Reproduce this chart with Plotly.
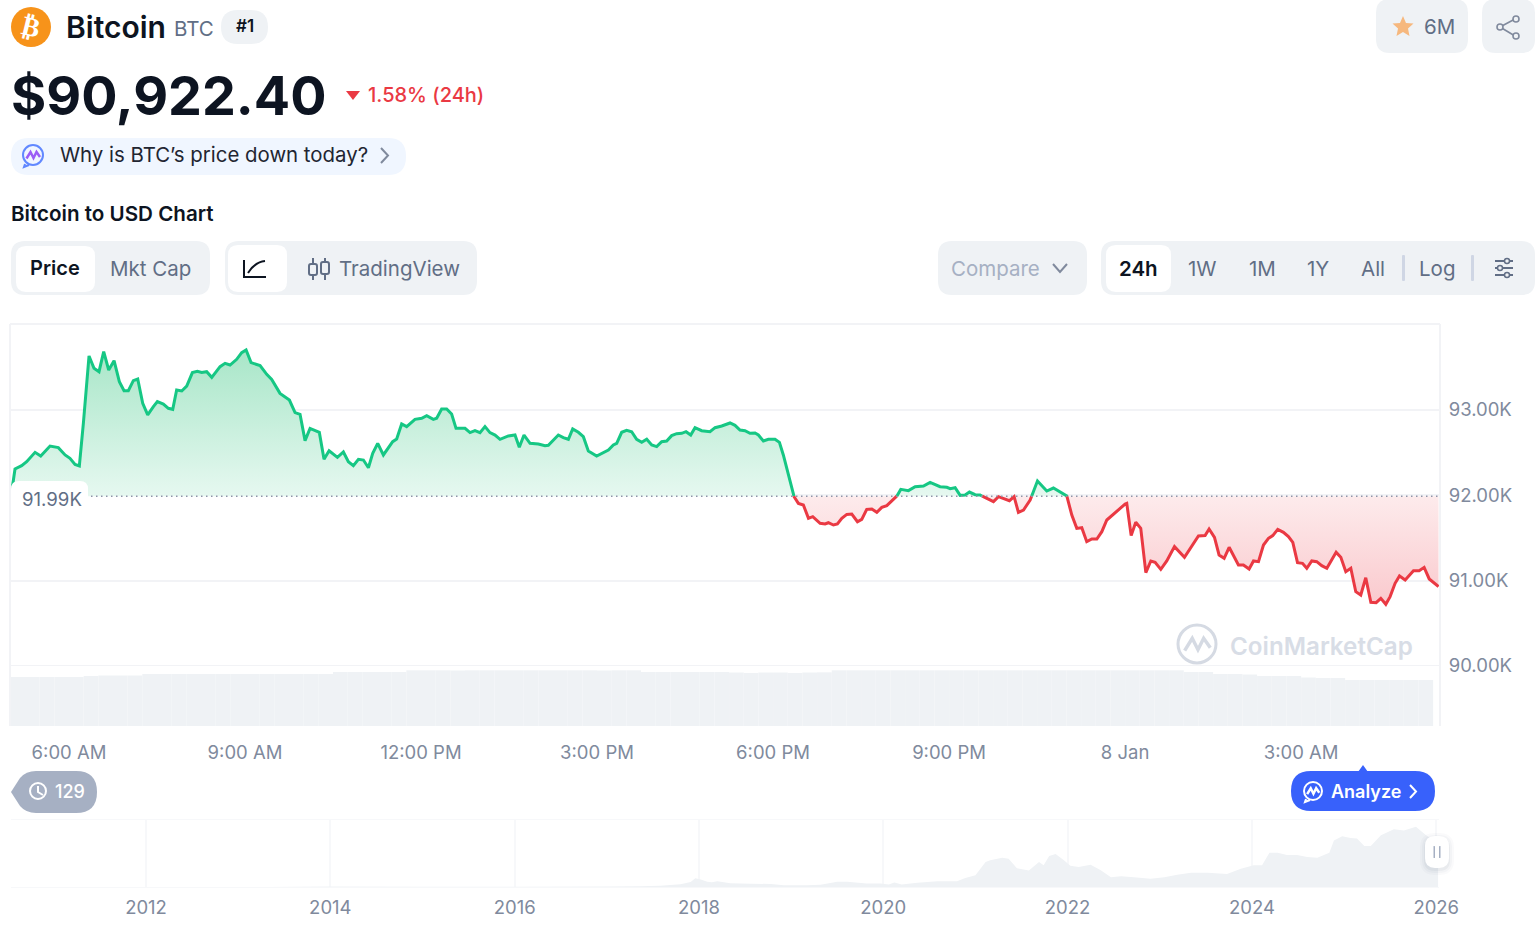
import re
import pandas as pd
import plotly.graph_objects as go

# ---- data ----
# minutes after 05:00 on 7 Jan, price in USD
minutes = [1.4, 4.8, 11.6, 16.7, 25.3, 31.1, 40.6, 49.1, 56, 61, 66.2, 70.6, 74.7, 80.5, 85.6, 90.7,
           95.5, 100.6, 106.1, 111.5, 116.3, 120.7, 125.8, 130.3, 135.4, 140.5, 146.3, 150.4, 156.5,
           161.6, 166.1, 170.1, 175.3, 180.4, 186.2, 191.3, 195.7, 200.8, 206, 214.5, 219.6, 224.7,
           231.5, 236.6, 241.1, 246.2, 255.4, 262.2, 267.3, 275.8, 285.4, 291.2, 296.3, 301.4, 306.5,
           316, 320.8, 326, 334.5, 340.6, 345.7, 350.8, 356, 361.1, 366.2, 370.6, 375.7, 381.5, 391,
           395.1, 400.2, 405.3, 413.8, 420.7, 425.8, 432.6, 436, 441.1, 446.2, 451.3, 455.8, 465,
           470.1, 475.2, 480.3, 485.4, 490.5, 495.7, 500.8, 509.3, 516.1, 520.5, 525.3, 531.5, 540,
           546.8, 550.2, 560.4, 565.5, 570.7, 575.1, 580.9, 586, 591.1, 599.6, 606.5, 611.6, 616.7,
           620.1, 625.2, 630.3, 635.4, 640.5, 645.7, 650.8, 655.9, 661, 666.1, 671.2, 676.3, 681.4,
           686.6, 691, 695.8, 700.2, 707, 715.5, 720.7, 727.5, 736, 741.1, 746.2, 751.3, 756.4, 761.6,
           765, 770.1, 775.2, 782, 786.5, 790.5, 801.5, 805.9, 811, 816.2, 820.6, 828.1, 833.2, 836.6,
           841.7, 845.8, 850.3, 855.4, 860.5, 866.3, 870.7, 875.8, 881, 886.1, 891.2, 896.3, 906.5,
           910.6, 918.4, 925.3, 933.8, 940.6, 950.8, 957.7, 961.1, 966.2, 971.3, 976.4, 980.8, 986.6,
           991.7, 998.6, 1005.4, 1010.5, 1021.7, 1026.5, 1030.9, 1036.1, 1042.9, 1050.4, 1059.9,
           1066.7, 1080.4, 1085.5, 1090.6, 1095.7, 1100.8, 1106, 1111.1, 1116.2, 1121.3, 1128.1, 1140,
           1141.7, 1146.2, 1150.9, 1156, 1161.2, 1166.3, 1170.7, 1176.5, 1182.6, 1190.5, 1200.7,
           1208.2, 1215, 1221.8, 1225.9, 1231.4, 1236.1, 1241.3, 1246.4, 1255.9, 1261, 1266.8, 1271.3,
           1276.4, 1281.5, 1286.6, 1291, 1296.1, 1301.9, 1307, 1311.5, 1316.3, 1321.4, 1325.8, 1330.9,
           1336, 1341.1, 1346.3, 1355.8, 1360.6, 1365.7, 1370.8, 1375.9, 1381, 1386.1, 1391.3, 1396.7,
           1401.5, 1406.6, 1411, 1416.1, 1420.6, 1426.4, 1434.9, 1440.7, 1445.8, 1451, 1460.5]
prices = [92043, 92309, 92348, 92394, 92504, 92461, 92578, 92559, 92473, 92434, 92363, 92344, 92844, 93633,
          93488, 93449, 93684, 93469, 93578, 93332, 93227, 93227, 93344, 93363, 93078, 92942, 93039, 93098,
          93070, 93020, 93008, 93234, 93223, 93281, 93438, 93453, 93441, 93449, 93383, 93508, 93547, 93527,
          93594, 93672, 93703, 93555, 93520, 93418, 93359, 93195, 93117, 92969, 92949, 92641, 92785, 92738,
          92422, 92523, 92445, 92508, 92394, 92348, 92422, 92414, 92324, 92492, 92609, 92473, 92629, 92660,
          92836, 92805, 92891, 92903, 92934, 92891, 92903, 93012, 93012, 92953, 92785, 92785, 92735, 92758,
          92735, 92805, 92735, 92707, 92657, 92696, 92707, 92563, 92707, 92610, 92602, 92582, 92586, 92707,
          92676, 92657, 92778, 92739, 92688, 92520, 92461, 92504, 92531, 92590, 92610, 92739, 92762, 92746,
          92657, 92621, 92657, 92590, 92571, 92629, 92637, 92700, 92723, 92727, 92746, 92707, 92793, 92758,
          92746, 92793, 92813, 92848, 92821, 92766, 92758, 92727, 92731, 92707, 92637, 92657, 92657, 92621,
          92473, 91984, 91906, 91887, 91730, 91750, 91672, 91664, 91679, 91652, 91664, 91730, 91777, 91781,
          91691, 91719, 91836, 91840, 91801, 91859, 91879, 91990, 92070, 92055, 92101, 92109, 92152, 92101,
          92094, 92078, 92090, 92000, 92004, 92039, 92008, 92004, 91961, 91926, 91984, 91937, 91984, 91801,
          91828, 91945, 92168, 92051, 92086, 91992, 91769, 91613, 91621, 91457, 91488, 91488, 91574, 91711,
          91781, 91898, 91906, 91528, 91684, 91613, 91094, 91231, 91215, 91133, 91231, 91399, 91274, 91399,
          91524, 91528, 91606, 91508, 91301, 91262, 91391, 91184, 91184, 91137, 91231, 91223, 91418, 91496,
          91528, 91602, 91567, 91516, 91449, 91211, 91203, 91145, 91231, 91223, 91176, 91145, 91332, 91274,
          91106, 91145, 90871, 90832, 91035, 90746, 90742, 90793, 90723, 90813, 90969, 91055, 91008, 91117,
          91117, 91156, 91020, 90930]
base_price = 91990

# 15 minute volume, in $B
volume_minutes = list(range(0, 1455, 15))
volume = [49, 49, 49, 49, 49, 50, 50.5, 50.5, 50.5, 52, 52, 52, 52, 52, 52, 52, 52, 52, 52, 52, 52, 52,
          54, 54, 54, 54, 54, 55.7, 55.7, 55.7, 55.5, 55.7, 55.7, 55.7, 55.7, 55.7, 55.7, 55.7, 55.7, 55.7,
          55.5, 55.7, 55.7, 54, 54, 54, 54, 54, 54, 53.5, 53, 53.5, 53.5, 53, 53.5, 53.7, 55.7, 55.7, 55.7,
          55.7, 55.7, 55.7, 55.7, 55.7, 55.7, 55.7, 55.7, 55.7, 55.7, 55.7, 55.7, 55.7, 55.7, 55.7, 55.7,
          55.7, 55.7, 55.7, 55.7, 55.7, 54, 54, 52, 52, 51.5, 50, 50, 50, 48.5, 48, 48, 46, 46, 46, 46, 46, 46]

# all time strip, price in $K
nav_years = [2010.55, 2012.0, 2013.3, 2014.0, 2015.0, 2016.0, 2017.0, 2017.36, 2017.58, 2017.80, 2017.91,
             2017.96, 2018.02, 2018.09, 2018.14, 2018.2, 2018.34, 2018.56, 2018.78, 2018.92, 2019.17, 2019.32,
             2019.50, 2019.61, 2019.82, 2019.97, 2020.06, 2020.12, 2020.20, 2020.37, 2020.59, 2020.80, 2020.89,
             2021.0, 2021.11, 2021.16, 2021.29, 2021.36, 2021.45, 2021.58, 2021.69, 2021.74, 2021.80, 2021.87,
             2021.96, 2022.03, 2022.12, 2022.25, 2022.36, 2022.47, 2022.58, 2022.72, 2022.90, 2023.05, 2023.19,
             2023.34, 2023.52, 2023.73, 2023.88, 2024.02, 2024.11, 2024.19, 2024.28, 2024.38, 2024.49, 2024.60,
             2024.71, 2024.84, 2024.89, 2024.98, 2025.07, 2025.14, 2025.22, 2025.29, 2025.40, 2025.54, 2025.65,
             2025.78, 2025.87, 2025.93, 2026.02]
nav_prices = [0.06, 0.01, 0.2, 0.8, 0.3, 0.4, 1, 1.4, 2.8, 5.7, 10.6, 18.4, 16, 11, 10, 12, 8, 7, 6.4, 3.6, 3.8, 5,
              11.3, 11, 7.5, 7.2, 5.5, 9.5, 5.5, 9.2, 12, 12, 19, 25, 53, 57, 62, 60, 40, 35, 53, 46, 66, 70,
              57, 45, 42.5, 47.5, 35.4, 21, 23, 21, 17.7, 21, 26, 30.5, 30.5, 27.6, 39, 46, 46, 73, 73, 68, 68, 64,
              62, 73, 99, 108, 104, 103, 87, 87, 110, 123, 120, 128, 113, 104, 92]

price_ticks = [90000, 91000, 92000, 93000]
price_labels = ["90.00K", "91.00K", "92.00K", "93.00K"]
time_ticks = ["2026-01-07 06:00", "2026-01-07 09:00", "2026-01-07 12:00", "2026-01-07 15:00",
              "2026-01-07 18:00", "2026-01-07 21:00", "2026-01-08 00:00", "2026-01-08 03:00"]
time_labels = ["6:00 AM", "9:00 AM", "12:00 PM", "3:00 PM", "6:00 PM", "9:00 PM", "8 Jan", "3:00 AM"]
nav_ticks = [2012, 2014, 2016, 2018, 2020, 2022, 2024, 2026]

GREEN = "#16c784"
RED = "#ea3943"
DARK = "#0d1421"
GREY = "#616e85"
SOFT = "#808a9d"
PANEL = "#eff2f5"
GRID = "#f2f3f6"
FONT = "Inter"

W, H = 1536, 944
t0 = pd.Timestamp("2026-01-07 05:00")


# minutes to date strings, gaps stay None
def stamp(values):
    return [None if v is None else str(t0 + pd.Timedelta(minutes=float(v))) for v in values]


# add a point wherever the price crosses the open price, so colours can change there
def with_crossings(xs, ys, base):
    out_x, out_y = [xs[0]], [ys[0]]
    for i in range(1, len(xs)):
        if (ys[i - 1] - base) * (ys[i] - base) < 0:
            out_x.append(xs[i - 1] + (base - ys[i - 1]) / (ys[i] - ys[i - 1]) * (xs[i] - xs[i - 1]))
            out_y.append(base)
        out_x.append(xs[i])
        out_y.append(ys[i])
    return out_x, out_y


# line and closed polygons for one side of the open price
def side_traces(xs, ys, base, above):
    line_x, line_y, poly_x, poly_y = [], [], [], []
    run = []
    for x, y in list(zip(xs, ys)) + [(None, None)]:
        keep = y is not None and (y >= base if above else y <= base)
        if keep:
            run.append((x, y))
        elif run:
            rx = [p[0] for p in run]
            ry = [p[1] for p in run]
            line_x += rx + [None]
            line_y += ry + [None]
            poly_x += [rx[0]] + rx + [rx[-1], None]
            poly_y += [base] + ry + [base, None]
            run = []
    return line_x, line_y, poly_x, poly_y


# page widgets are drawn in page pixels, converted here to paper coordinates
def px(x):
    return x / W


def py(y):
    return 1 - y / H


def to_paper(path):
    return re.sub(r"(-?[\d.]+),(-?[\d.]+)", lambda m: f"{px(float(m[1])):.5f},{py(float(m[2])):.5f}", path)


def rrect(x0, y0, x1, y1, r):
    return (f"M{x0+r},{y0} L{x1-r},{y0} Q{x1},{y0} {x1},{y0+r} L{x1},{y1-r} Q{x1},{y1} {x1-r},{y1} "
            f"L{x0+r},{y1} Q{x0},{y1} {x0},{y1-r} L{x0},{y0+r} Q{x0},{y0} {x0+r},{y0} Z")


shapes = []
notes = []


def box(x0, y0, x1, y1, r, color):
    shapes.append(dict(type="path", path=to_paper(rrect(x0, y0, x1, y1, r)), xref="paper", yref="paper",
                       fillcolor=color, line=dict(width=0), layer="above"))


def stroke(path, color, width=2, fill=None):
    s = dict(type="path", path=to_paper(path), xref="paper", yref="paper",
             line=dict(color=color, width=width), layer="above")
    if fill:
        s["fillcolor"] = fill
    shapes.append(s)


def ring(cx, cy, r, color, width=2, fill=None):
    s = dict(type="circle", x0=px(cx - r), x1=px(cx + r), y0=py(cy - r), y1=py(cy + r), xref="paper", yref="paper",
             line=dict(color=color, width=width), layer="above")
    if fill:
        s["fillcolor"] = fill
    shapes.append(s)


def label(x, y, text, size=20.5, color=DARK, weight=400, anchor="center", family=FONT, angle=0):
    if anchor == "left":
        x -= 1
    notes.append(dict(x=px(x), y=py(y), xref="paper", yref="paper", text=text, showarrow=False, xanchor=anchor,
                      yanchor="middle", textangle=angle, borderpad=0,
                      font=dict(family=family, size=size, color=color, weight=weight)))


def msg_icon(cx, cy, r, color, wave, tail=True, width=2):
    ring(cx, cy, r, color, width)
    if tail:
        stroke(f"M{cx-r+2},{cy+r-1} L{cx-r+1},{cy+r+2} L{cx-r+6},{cy+r}", color, width)
    stroke(f"M{cx-r*0.65},{cy+r*0.35} L{cx-r*0.25},{cy-r*0.3} L{cx+r*0.05},{cy+r*0.3} "
           f"L{cx+r*0.35},{cy-r*0.3} L{cx+r*0.7},{cy+r*0.2}", wave, width + 0.5)


# ---- header ----
ring(31, 27, 20, "#f7931a", 0, "#f7931a")
label(31, 27, "₿", 27, "white", 700, family="DejaVu Sans", angle=14)
label(66, 27, "Bitcoin", 30, DARK, 600, "left")
label(174, 29, "BTC", 20.5, GREY, 400, "left")
box(221, 10, 268, 44, 17, PANEL)
label(245, 26, "#1", 17, DARK, 600)
label(11, 95, "$90,922.40", 53.8, DARK, 700, "left")
stroke("M346,91 L360,91 L353,100 Z", RED, 0, RED)
label(368, 95, "1.58% (24h)", 20, RED, 500, "left")
box(11, 138, 406, 175, 18, "#f0f6ff")
msg_icon(33, 155, 10, "#6188ff", "#9b5cf6")
label(60, 155, "Why is BTC’s price down today?", 20.4, "#222531", 400, "left")
stroke("M381,148 L388,155.5 L381,163", SOFT, 2)
label(11, 214, "Bitcoin to USD Chart", 20.6, DARK, 600, "left")

# ---- toolbar ----
box(11, 241, 210, 295, 14, PANEL)
box(16, 246, 95, 292, 10, "white")
label(55, 268, "Price", 20, DARK, 600)
label(150, 268, "Mkt Cap", 20.5, GREY, 400)
box(225, 241, 477, 295, 14, PANEL)
box(228, 245, 287, 292, 10, "white")
stroke("M244,260 L244,277 L266,277", DARK, 2)
stroke("M248,273 Q255,262 265,261", DARK, 2)
stroke("M313,258 L313,280 M325,258 L325,280", GREY, 2)
stroke(rrect(309, 264, 317, 275, 2), GREY, 2, PANEL)
stroke(rrect(321, 262, 329, 274, 2), GREY, 2, PANEL)
label(339, 268, "TradingView", 20.5, GREY, 400, "left")
box(938, 241, 1087, 295, 14, PANEL)
label(951, 268, "Compare", 20.5, "#a6b0c3", 400, "left")
stroke("M1053,264 L1060,272 L1067,264", SOFT, 2)
box(1101, 241, 1535, 295, 14, PANEL)
box(1106, 245, 1171, 292, 10, "white")
label(1138, 268, "24h", 20.5, DARK, 600)
for cx, name in zip([1202, 1262, 1318, 1373, 1437], ["1W", "1M", "1Y", "All", "Log"]):
    label(cx, 268, name, 20.5, GREY, 400)
box(1402, 255, 1405, 281, 1, "#cfd6e4")
box(1471, 255, 1474, 281, 1, "#cfd6e4")
stroke("M1495,261 L1513,261 M1495,268 L1513,268 M1495,275 L1513,275", GREY, 2)
ring(1507, 261, 2.5, GREY, 1.5, PANEL)
ring(1500, 268, 2.5, GREY, 1.5, PANEL)
ring(1507, 275, 2.5, GREY, 1.5, PANEL)

# ---- top right ----
box(1376, -1, 1468, 53, 14, PANEL)
stroke("M1403,16 L1406,23 L1413.5,23.6 L1408,28.5 L1409.5,36 L1403,32 L1396.5,36 L1398,28.5 L1392.5,23.6 L1400,23 Z",
       "#f6b87e", 0, "#f6b87e")
label(1424, 26, "6M", 20.5, GREY, 400, "left")
box(1482, -1, 1535, 53, 14, PANEL)
stroke("M1500,27 L1515,19 M1500,27 L1515,36", SOFT, 1.6)
ring(1500, 27, 3, SOFT, 1.6, PANEL)
ring(1516, 19, 3, SOFT, 1.6, PANEL)
ring(1516, 36, 3, SOFT, 1.6, PANEL)

# ---- inside the chart ----
msg_icon(1197, 644, 19, "#d5dae3", "#d5dae3", tail=False, width=3)
label(1230, 646, "CoinMarketCap", 24.2, "#d8dde6", 600, "left")
box(11, 481, 88, 511, 8, "white")
label(22, 499, "91.99K", 18.6, GREY, 400, "left")

# ---- badges ----
stroke("M11,792 L20,778 Q26,771 36,771 L76,771 Q97,771 97,792 Q97,813 76,813 L36,813 Q26,813 20,806 Z",
       "#a6b0c3", 0, "#a6b0c3")
ring(38, 791, 8, "white", 2)
stroke("M38,786 L38,792 L43,795", "white", 2)
label(55, 791, "129", 18, "white", 500, "left")
stroke("M1358,772 L1363,765 L1368,772 Z", "#3861fb", 0, "#3861fb")
box(1291, 771, 1435, 811, 20, "#3861fb")
msg_icon(1313, 791, 9, "white", "white")
label(1331, 791, "Analyze", 18, "white", 600, "left")
stroke("M1410,785 L1416,791.5 L1410,798", "white", 2)

# ---- slider handle ----
for grow, alpha in [(5, 0.03), (3, 0.04), (1, 0.06)]:
    box(1425 - grow, 836 - grow + 2, 1449 + grow, 868 + grow + 2, 10 + grow, f"rgba(88,102,126,{alpha})")
box(1425, 836, 1449, 868, 10, "white")
box(1433.5, 846, 1435, 858, 0.5, "#a6b0c3")
box(1439, 846, 1440.5, 858, 0.5, "#a6b0c3")

# ---- traces ----
xs, ys = with_crossings(minutes, prices, base_price)
up_x, up_y, up_px, up_py = side_traces(xs, ys, base_price, True)
dn_x, dn_y, dn_px, dn_py = side_traces(xs, ys, base_price, False)

fig = go.Figure()
fig.add_trace(go.Bar(x=stamp(volume_minutes), y=volume, yaxis="y2", offset=0, width=15 * 60000,
                     marker=dict(color=PANEL, line=dict(width=0)), showlegend=False))
fig.add_trace(go.Scatter(x=stamp(up_px), y=up_py, mode="none", fill="toself", showlegend=False,
                         fillgradient=dict(type="vertical", start=base_price, stop=93700,
                                           colorscale=[[0, "#e6f8f0"], [1, "#a8e6c8"]])))
fig.add_trace(go.Scatter(x=stamp(dn_px), y=dn_py, mode="none", fill="toself", showlegend=False,
                         fillgradient=dict(type="vertical", start=90700, stop=base_price,
                                           colorscale=[[0, "#fac9cd"], [1, "#fdebec"]])))
fig.add_trace(go.Scatter(x=stamp(up_x), y=up_y, mode="lines", line=dict(color=GREEN, width=3), showlegend=False))
fig.add_trace(go.Scatter(x=stamp(dn_x), y=dn_y, mode="lines", line=dict(color=RED, width=3), showlegend=False))
fig.add_trace(go.Scatter(x=nav_years, y=nav_prices, xaxis="x3", yaxis="y3", mode="none", fill="tozeroy",
                         fillcolor=PANEL, showlegend=False))

# open price dotted line, goes first so the label box covers it
shapes.insert(0, dict(type="line", xref="x domain", yref="y", x0=0, x1=1, y0=base_price, y1=base_price,
                      line=dict(color="#8d94a8", width=1.5, dash="1.5px,3.5px"), layer="above"))
# top border of chart
shapes.insert(0, dict(type="line", xref="paper", yref="paper", x0=px(10), x1=px(1440), y0=py(324), y1=py(324),
                      line=dict(color=GRID, width=2), layer="below"))


def ydom(top, bottom):
    return [(H - bottom) / H, (H - top) / H]


tick_font = dict(family=FONT, size=18.5, color=SOFT)
hide = "rgba(0,0,0,0)"

fig.update_layout(
    width=W, height=H, margin=dict(l=0, r=0, t=0, b=0, autoexpand=False),
    paper_bgcolor="white", plot_bgcolor="white", showlegend=False, bargap=0.05,
    xaxis=dict(domain=[11 / W, 1439 / W], type="date", anchor="y",
               range=[str(t0 + pd.Timedelta(minutes=0.7)), str(t0 + pd.Timedelta(minutes=1461))],
               tickmode="array", tickvals=time_ticks, ticktext=time_labels, tickfont=tick_font,
               ticks="outside", ticklen=10, tickcolor=hide, showgrid=False, zeroline=False, showline=False),
    yaxis=dict(domain=ydom(324, 726), range=[89297, 94008], anchor="x", side="right",
               tickmode="array", tickvals=price_ticks, ticktext=price_labels, tickfont=tick_font,
               ticks="outside", ticklen=4, tickcolor=hide, gridcolor=GRID, gridwidth=1.5,
               showline=True, mirror=True, linecolor=GRID, linewidth=2, zeroline=False),
    yaxis2=dict(domain=ydom(666, 726), range=[0, 60], anchor="x", visible=False),
    xaxis3=dict(domain=[11 / W, 1439 / W], range=[2010.535, 2026.03], anchor="y3",
                tickmode="array", tickvals=nav_ticks, ticktext=[str(v) for v in nav_ticks], tickfont=tick_font,
                ticks="outside", ticklen=4, tickcolor=hide, gridcolor="#f7f8fa", gridwidth=1.5,
                showline=True, mirror=True, linecolor="#f7f8fa", zeroline=False),
    yaxis3=dict(domain=ydom(820, 887), range=[0, 142.5], anchor="x3", visible=False),
    shapes=shapes, annotations=notes,
)

fig.write_html("out.html", config={"displayModeBar": False},
               post_script="document.body.style.margin='0';document.body.style.overflow='hidden';")
